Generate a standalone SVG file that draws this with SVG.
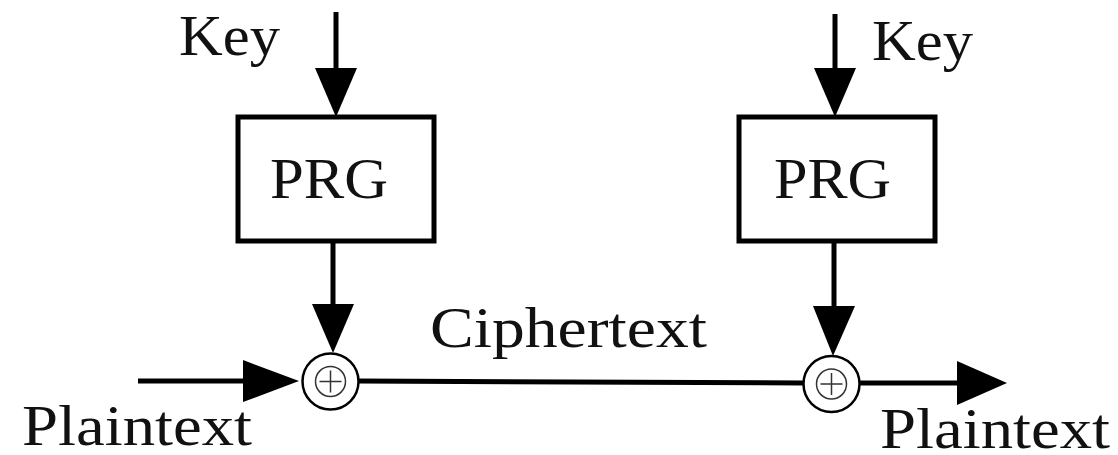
<svg xmlns="http://www.w3.org/2000/svg" width="1118" height="455" viewBox="0 0 1118 455">
<style>
.t{font-family:"Liberation Serif","Times New Roman",serif;font-size:58px;fill:#111}
.ln{stroke:#000;stroke-width:5;fill:none}
.box{stroke:#000;stroke-width:5;fill:#fff}
.xo{stroke:#000;stroke-width:2.5;fill:#fff}
.xi{stroke:#333;stroke-width:1.5;fill:none}
.ah{fill:#000}
</style>
<rect width="1118" height="455" fill="#fff"/>
<g id="connectors">
<line class="ln" x1="336" y1="12" x2="336" y2="80"/>
<polygon class="ah" points="315,68 357,68 336,117"/>
<line class="ln" x1="835" y1="14" x2="835" y2="80"/>
<polygon class="ah" points="814,68 856,68 835,117"/>
<line class="ln" x1="333" y1="241" x2="333" y2="315"/>
<polygon class="ah" points="312,304 354,304 333,353"/>
<line class="ln" x1="834" y1="241" x2="834" y2="318"/>
<polygon class="ah" points="813,306 855,306 833,356"/>
<line class="ln" x1="138" y1="381" x2="255" y2="381"/>
<polygon class="ah" points="243,360 243,402 299,381"/>
<line class="ln" x1="359" y1="381" x2="803" y2="383"/>
<line class="ln" x1="860" y1="383" x2="970" y2="383"/>
<polygon class="ah" points="957,361 957,405 1007,383"/>
</g>
<g id="key1"><text class="t" x="179" y="55" textLength="101" lengthAdjust="spacingAndGlyphs">Key</text></g>
<g id="key2"><text class="t" x="872" y="60" textLength="101" lengthAdjust="spacingAndGlyphs">Key</text></g>
<g id="prg1">
<rect class="box" x="238" y="117" width="196" height="124"/>
<text class="t" x="270" y="198" textLength="118" lengthAdjust="spacingAndGlyphs">PRG</text>
</g>
<g id="prg2">
<rect class="box" x="739" y="117" width="196" height="124"/>
<text class="t" x="774" y="198" textLength="117" lengthAdjust="spacingAndGlyphs">PRG</text>
</g>
<g id="xor1">
<circle class="xo" cx="330.5" cy="381.5" r="28"/>
<circle class="xi" cx="330.5" cy="381.5" r="15"/>
<path class="xi" d="M319.5 381.5H341.5M330.5 370.5V392.5"/>
</g>
<g id="xor2">
<circle class="xo" cx="831.5" cy="384" r="28"/>
<circle class="xi" cx="831.5" cy="384" r="15"/>
<path class="xi" d="M820.5 384H842.5M831.5 373V395"/>
</g>
<g id="ciphertext"><text class="t" x="430" y="347" textLength="277" lengthAdjust="spacingAndGlyphs">Ciphertext</text></g>
<g id="plain1"><text class="t" x="22" y="445" textLength="230" lengthAdjust="spacingAndGlyphs">Plaintext</text></g>
<g id="plain2"><text class="t" x="880" y="448" textLength="230" lengthAdjust="spacingAndGlyphs">Plaintext</text></g>
</svg>
